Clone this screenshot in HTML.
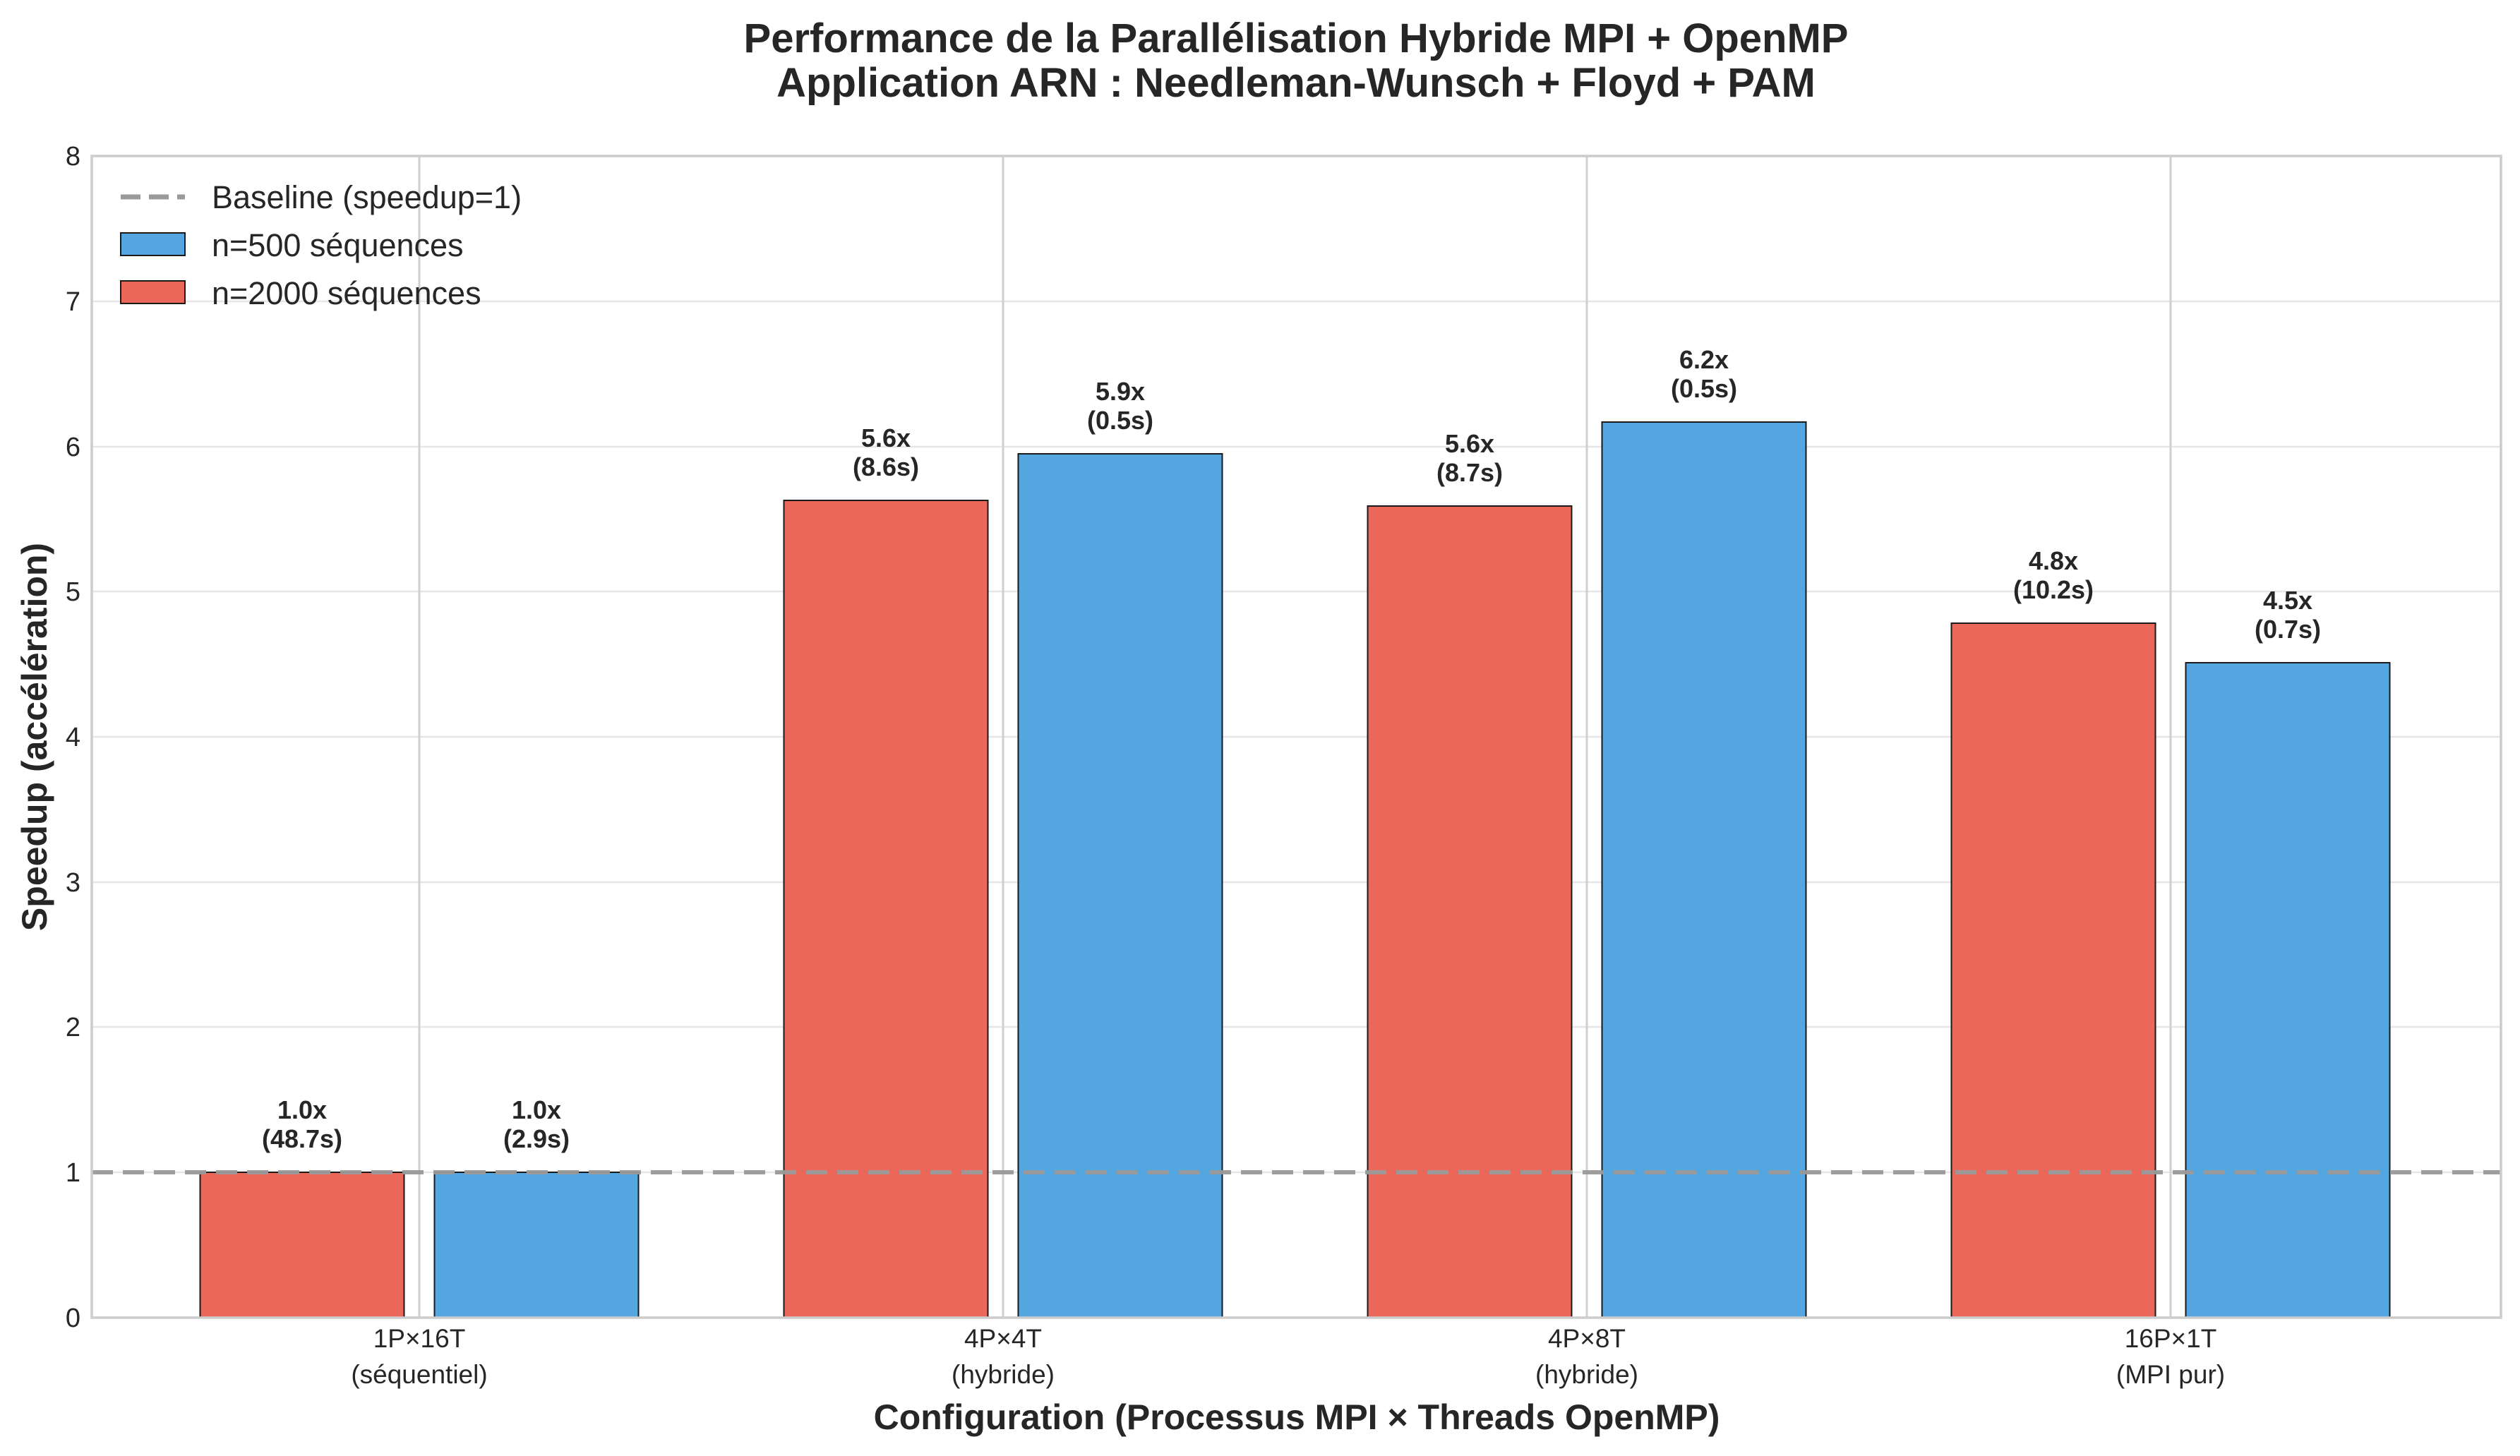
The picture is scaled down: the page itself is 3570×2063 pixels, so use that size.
<!DOCTYPE html>
<html><head><meta charset="utf-8"><style>html,body{margin:0;padding:0;background:#fff}svg{display:block}</style></head>
<body>
<svg width="3570" height="2063" viewBox="0 0 3570 2063" xmlns="http://www.w3.org/2000/svg" font-family="Liberation Sans, sans-serif">
<rect width="3570" height="2063" fill="#fff"/>
<g fill="#262626" font-weight="bold" font-size="58" text-anchor="middle">
<text x="1836" y="74">Performance de la Parallélisation Hybride MPI + OpenMP</text>
<text x="1836" y="137">Application ARN : Needleman-Wunsch + Floyd + PAM</text>
</g>
<!-- grid -->
<g stroke="#e6e6e6" stroke-width="2.5">
<line x1="130" x2="3543" y1="1661" y2="1661"/><line x1="130" x2="3543" y1="1455" y2="1455"/>
<line x1="130" x2="3543" y1="1250" y2="1250"/><line x1="130" x2="3543" y1="1044" y2="1044"/>
<line x1="130" x2="3543" y1="838" y2="838"/><line x1="130" x2="3543" y1="633" y2="633"/>
<line x1="130" x2="3543" y1="427" y2="427"/>
</g>
<g stroke="#d0d0d0" stroke-width="3">
<line x1="594" x2="594" y1="221" y2="1867"/><line x1="1421" x2="1421" y1="221" y2="1867"/>
<line x1="2248" x2="2248" y1="221" y2="1867"/><line x1="3075" x2="3075" y1="221" y2="1867"/>
</g>
<!-- bars -->
<g stroke="#1a1a1a" stroke-width="2">
<rect x="283.5" y="1661" width="289" height="206" fill="#eb675a"/>
<rect x="615.5" y="1661" width="289" height="206" fill="#53a6df"/>
<rect x="1110.5" y="709" width="289" height="1158" fill="#eb675a"/>
<rect x="1442.5" y="643" width="289" height="1224" fill="#53a6df"/>
<rect x="1937.5" y="717" width="289" height="1150" fill="#eb675a"/>
<rect x="2269.5" y="598" width="289" height="1269" fill="#53a6df"/>
<rect x="2764.5" y="883" width="289" height="984" fill="#eb675a"/>
<rect x="3096.5" y="939" width="289" height="928" fill="#53a6df"/>
</g>
<line x1="130" x2="3543" y1="1661" y2="1661" stroke="#9a9a9a" stroke-width="6" stroke-dasharray="30,14" opacity="0.95"/>
<!-- spines -->
<rect x="130" y="221" width="3413" height="1646" fill="none" stroke="#cccccc" stroke-width="3.5"/>
<!-- bar labels -->
<g fill="#262626" font-weight="bold" font-size="36" text-anchor="middle">
<text x="428" y="1585">1.0x</text><text x="428" y="1626">(48.7s)</text>
<text x="760" y="1585">1.0x</text><text x="760" y="1626">(2.9s)</text>
<text x="1255" y="633">5.6x</text><text x="1255" y="674">(8.6s)</text>
<text x="1587" y="567">5.9x</text><text x="1587" y="608">(0.5s)</text>
<text x="2082" y="641">5.6x</text><text x="2082" y="682">(8.7s)</text>
<text x="2414" y="522">6.2x</text><text x="2414" y="563">(0.5s)</text>
<text x="2909" y="807">4.8x</text><text x="2909" y="848">(10.2s)</text>
<text x="3241" y="863">4.5x</text><text x="3241" y="904">(0.7s)</text>
</g>
<!-- y ticks -->
<g fill="#262626" font-size="38" text-anchor="end">
<text x="114" y="1880">0</text><text x="114" y="1674">1</text><text x="114" y="1468">2</text>
<text x="114" y="1263">3</text><text x="114" y="1057">4</text><text x="114" y="851">5</text>
<text x="114" y="646">6</text><text x="114" y="440">7</text><text x="114" y="234">8</text>
</g>
<!-- x ticks -->
<g fill="#262626" font-size="37" text-anchor="middle">
<text x="594" y="1909">1P×16T</text><text x="594" y="1960">(séquentiel)</text>
<text x="1421" y="1909">4P×4T</text><text x="1421" y="1960">(hybride)</text>
<text x="2248" y="1909">4P×8T</text><text x="2248" y="1960">(hybride)</text>
<text x="3075" y="1909">16P×1T</text><text x="3075" y="1960">(MPI pur)</text>
</g>
<text x="1837" y="2025" fill="#262626" font-weight="bold" font-size="50" text-anchor="middle">Configuration (Processus MPI × Threads OpenMP)</text>
<text transform="translate(66,1044) rotate(-90)" fill="#262626" font-weight="bold" font-size="50" text-anchor="middle">Speedup (accélération)</text>
<!-- legend -->
<line x1="171" x2="262" y1="279" y2="279" stroke="#9a9a9a" stroke-width="7" stroke-dasharray="28,12"/>
<rect x="171" y="330" width="91" height="32" fill="#53a6df" stroke="#1a1a1a" stroke-width="2"/>
<rect x="171" y="398" width="91" height="32" fill="#eb675a" stroke="#1a1a1a" stroke-width="2"/>
<g fill="#262626" font-size="45">
<text x="300" y="295">Baseline (speedup=1)</text>
<text x="300" y="363">n=500 séquences</text>
<text x="300" y="431">n=2000 séquences</text>
</g>
</svg>
</body></html>
